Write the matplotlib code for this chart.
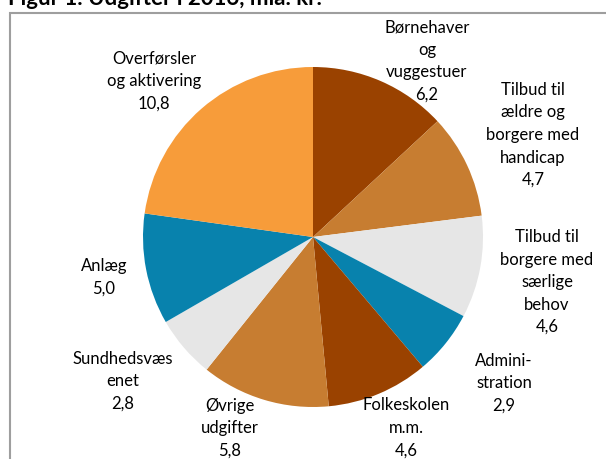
import matplotlib
matplotlib.use("Agg")
import matplotlib.pyplot as plt
from matplotlib.patches import Rectangle

plt.rcParams['font.family'] = ['Lato', 'DejaVu Sans']

# data, clockwise from 12 o'clock
categories = ["Børnehaver\nog\nvuggestuer",
              "Tilbud til\nældre og\nborgere med\nhandicap",
              "Tilbud til\nborgere med\nsærlige\nbehov",
              "Admini-\nstration",
              "Folkeskolen\nm.m.",
              "Øvrige\nudgifter",
              "Sundhedsvæs\nenet",
              "Anlæg",
              "Overførsler\nog aktivering"]
values = [6.2, 4.7, 4.6, 2.9, 4.6, 5.8, 2.8, 5.0, 10.8]

colors = ["#9A4200", "#C77D31", "#E6E6E6", "#0882AD", "#9A4200",
          "#C77D31", "#E6E6E6", "#0882AD", "#F79C3A"]

# label centres in pixels (x from left, y from top)
label_pos = [(427, 61), (533, 135), (547, 282), (504, 383), (406, 428),
             (230, 428), (123, 381), (104, 277), (154, 81)]

W, H = 606, 459
fig = plt.figure(figsize=(W / 100, H / 100), dpi=100)

# frame (only left and top edge visible in the crop)
fig.patches.append(Rectangle((10 / W, -0.1), 1.2, (H - 13) / H + 0.1,
                             transform=fig.transFigure, fill=False,
                             edgecolor="#9E9E9E", linewidth=1.5))

# title is cut off at the top edge in the original crop
fig.text(8 / W, (H - 5) / H, "Figur 1. Udgifter i 2016, mia. kr.",
         fontsize=16, fontweight="bold", va="baseline", ha="left")

cx, cy, r = 313, 237, 170
ax = fig.add_axes([(cx - r) / W, (H - cy - r) / H, 2 * r / W, 2 * r / H])
ax.pie(values, colors=colors, startangle=90, counterclock=False,
       radius=1, wedgeprops=dict(linewidth=0))
ax.set_xlim(-1, 1)
ax.set_ylim(-1, 1)
ax.set_aspect("equal")
ax.axis("off")

for cat, val, (px, py) in zip(categories, values, label_pos):
    txt = cat + "\n" + f"{val:.1f}".replace(".", ",")
    fig.text(px / W, (H - py) / H, txt, ha="center", va="center",
             fontsize=12, linespacing=1.5, color="#000000")

fig.savefig("out.png", dpi=100)
